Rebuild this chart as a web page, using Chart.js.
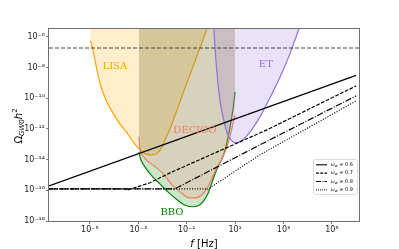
<!DOCTYPE html>
<html><head><meta charset="utf-8">
<script src="https://cdn.jsdelivr.net/npm/chart.js@4.4.1/dist/chart.umd.min.js"></script>
<style>html,body{margin:0;padding:0;background:#fff;overflow:hidden}canvas{display:block}</style>
</head><body>
<canvas id="c" width="399" height="249"></canvas>
<script>
// All values are log10: frequency f [Hz] and Omega_GW0 h^2
const xMinExp = -6.69, xMaxExp = 6.12;
const yMinExp = -18, yMaxExp = -5.48;
const xTickExps = [-5, -3, -1, 1, 3, 5];
const xTickLabels = ['10⁻⁵', '10⁻³', '10⁻¹', '10¹', '10³', '10⁵'];
const yTickExps = [-18, -16, -14, -12, -10, -8, -6];
const yTickLabels = ['10⁻¹⁸', '10⁻¹⁶', '10⁻¹⁴', '10⁻¹²', '10⁻¹⁰', '10⁻⁸', '10⁻⁶'];

// horizontal dashed bound
const boundLogF = [-6.69, 6.12];
const boundLogOmega = [-6.72, -6.72];

// omega_w curves
const w06LogF = [-6.69, 6.0];
const w06LogOmega = [-15.71, -8.5];
const w07LogF = [-6.69, -3.55, -3.47, -3.40, -2.52, -1.69, 2.31, 6.0];
const w07LogOmega = [-15.9, -15.9, -16.0, -15.95, -15.51, -14.86, -12.06, -9.19];
const w08LogF = [-6.69, -1.62, -1.55, 2.02, 6.0];
const w08LogOmega = [-15.9, -15.9, -15.95, -13.04, -9.84];
const w09LogF = [-6.69, -0.22, -0.15, 2.02, 6.0];
const w09LogOmega = [-15.9, -15.9, -15.95, -13.69, -10.17];
const legendValues = ['0.6', '0.7', '0.8', '0.9'];

// detector sensitivity curves
const lisaLogF = [-4.98, -4.876, -4.752, -4.587, -4.339, -4.05, -3.76, -3.47, -3.18, -2.93, -2.69, -2.44, -2.19, -2.02, -1.86, -1.69, -1.28, -0.87, -0.455, -0.165];
const lisaLogOmega = [-6.26, -6.85, -7.82, -9.0, -10.1, -10.95, -11.67, -12.25, -12.91, -13.36, -13.62, -13.69, -13.56, -13.17, -12.58, -11.99, -10.23, -8.48, -6.72, -5.48];
const decigoLogF = [-2.975, -2.934, -2.81, -2.52, -2.19, -1.90, -1.61, -1.28, -0.87, -0.62, -0.372, -0.124, 0.083, 0.289, 0.496, 0.661, 0.785, 0.909, 1.0];
const decigoLogOmega = [-12.51, -13.23, -13.75, -14.21, -14.60, -15.06, -15.64, -16.10, -16.49, -16.49, -16.29, -15.77, -15.06, -14.40, -13.82, -13.17, -12.51, -11.67, -11.1];
const bboLogF = [-2.975, -2.893, -2.727, -2.44, -2.107, -1.777, -1.446, -1.116, -0.785, -0.537, -0.33, -0.124, 0.041, 0.207, 0.372, 0.537, 0.661, 0.785, 0.909, 1.0];
const bboLogOmega = [-13.49, -14.01, -14.47, -15.06, -15.58, -16.10, -16.55, -16.94, -17.07, -17.01, -16.75, -16.23, -15.51, -14.79, -14.21, -13.62, -12.91, -11.93, -10.76, -9.58];
const etLogF = [0.124, 0.165, 0.207, 0.248, 0.289, 0.372, 0.455, 0.579, 0.70, 0.868, 1.033, 1.20, 1.446, 1.74, 2.025, 2.355, 2.727, 3.0, 3.264, 3.45, 3.636];
const etLogOmega = [-5.48, -6.52, -7.50, -8.28, -9.0, -10.10, -10.89, -11.73, -12.38, -12.78, -12.91, -12.84, -12.51, -11.93, -11.21, -10.23, -9.05, -8.1, -7.1, -6.3, -5.48];

// text labels (data coordinates, log10)
const curveLabels = [
  { text: 'LISA', logF: -3.97, logOmega: -7.89, color: '#FFA500' },
  { text: 'ET', logF: 2.27, logOmega: -7.82, color: '#9370DB' },
  { text: 'DECIGO', logF: -0.66, logOmega: -12.12, color: '#F47A68' },
  { text: 'BBO', logF: -1.61, logOmega: -17.47, color: '#008000' }
];

function pts(lf, lo) { return lf.map((v, i) => ({ x: Math.pow(10, v), y: Math.pow(10, lo[i]) })); }

const blackLine = (label, lf, lo, dash) => ({
  label, data: pts(lf, lo), borderColor: '#000', borderWidth: 1.2, borderDash: dash,
  pointRadius: 0, fill: false, tension: 0, isLegend: true
});
const detector = (label, lf, lo, line, fillc) => ({
  label, data: pts(lf, lo), borderColor: line, backgroundColor: fillc, borderWidth: 1.2,
  pointRadius: 0, fill: 'end', cubicInterpolationMode: 'monotone'
});

const datasets = [
  blackLine('w06', w06LogF, w06LogOmega, []),
  blackLine('w07', w07LogF, w07LogOmega, [3.7, 1.6]),
  blackLine('w08', w08LogF, w08LogOmega, [6.4, 1.6, 1, 1.6]),
  blackLine('w09', w09LogF, w09LogOmega, [1, 1.6]),
  { label: 'bound', data: pts(boundLogF, boundLogOmega), borderColor: 'rgba(40,40,40,0.85)', borderWidth: 1.2, borderDash: [4, 2], pointRadius: 0, fill: false },
  detector('ET', etLogF, etLogOmega, '#9370DB', 'rgba(147,112,219,0.2)'),
  detector('DECIGO', decigoLogF, decigoLogOmega, '#F47A68', 'rgba(250,128,114,0.2)'),
  detector('BBO', bboLogF, bboLogOmega, '#008000', 'rgba(0,128,0,0.2)'),
  detector('LISA', lisaLogF, lisaLogOmega, '#FFA500', 'rgba(255,165,0,0.2)')
];

const decor = {
  id: 'decor',
  afterDatasetsDraw(chart) {
    const ctx = chart.ctx, a = chart.chartArea, sx = chart.scales.x, sy = chart.scales.y;
    ctx.save();
    // curve labels
    ctx.textAlign = 'center'; ctx.textBaseline = 'middle';
    ctx.font = '10px "DejaVu Serif"';
    curveLabels.forEach(l => {
      ctx.fillStyle = l.color;
      ctx.fillText(l.text, sx.getPixelForValue(Math.pow(10, l.logF)), sy.getPixelForValue(Math.pow(10, l.logOmega)));
    });
    // frame
    ctx.strokeStyle = '#707070'; ctx.lineWidth = 1;
    ctx.strokeRect(Math.round(a.left) - 0.5, Math.round(a.top) - 0.5, Math.round(a.right - a.left) + 1, Math.round(a.bottom - a.top) + 1);
    // legend
    const bx = a.right - 46, by = a.bottom - 62, bw = 44, bh = 35;
    ctx.fillStyle = 'rgba(255,255,255,0.85)'; ctx.strokeStyle = '#d0d0d0'; ctx.lineWidth = 0.8;
    ctx.beginPath(); ctx.roundRect(bx + 0.5, by + 0.5, bw, bh, 2); ctx.fill(); ctx.stroke();
    const legendSets = chart.data.datasets.filter(d => d.isLegend);
    legendSets.forEach((d, i) => {
      const yy = by + 5.8 + i * 8.35;
      ctx.strokeStyle = '#000'; ctx.lineWidth = 1.1; ctx.setLineDash(d.borderDash.map(v => v * 0.8));
      ctx.beginPath(); ctx.moveTo(bx + 3, yy); ctx.lineTo(bx + 14, yy); ctx.stroke();
      ctx.setLineDash([]);
      ctx.fillStyle = '#000'; ctx.textAlign = 'left'; ctx.textBaseline = 'middle';
      let tx = bx + 17.5;
      ctx.font = 'italic 5px "DejaVu Sans"'; ctx.fillText('ω', tx, yy); tx += ctx.measureText('ω').width;
      ctx.font = 'italic 3.6px "DejaVu Sans"'; ctx.fillText('w', tx, yy + 1.3); tx += ctx.measureText('w').width;
      ctx.font = '5px "DejaVu Sans"'; ctx.fillText(' = ' + legendValues[i], tx, yy);
    });
    // x title
    ctx.fillStyle = '#000'; ctx.textBaseline = 'alphabetic'; ctx.textAlign = 'left';
    const xc = (a.left + a.right) / 2;
    ctx.font = 'italic 10px "DejaVu Sans"'; const w1 = ctx.measureText('f').width;
    ctx.font = '10px "DejaVu Sans"'; const w2 = ctx.measureText(' [Hz]').width;
    let x0 = xc - (w1 + w2) / 2;
    ctx.font = 'italic 10px "DejaVu Sans"'; ctx.fillText('f', x0, 246.5);
    ctx.font = '10px "DejaVu Sans"'; ctx.fillText(' [Hz]', x0 + w1, 246.5);
    // y title
    ctx.translate(21.5, (a.top + a.bottom) / 2 + 1);
    ctx.rotate(-Math.PI / 2);
    const parts = [
      { t: 'Ω', f: '10px "DejaVu Sans"', dy: 0 },
      { t: 'GW0', f: 'italic 7px "DejaVu Sans"', dy: 2.2 },
      { t: 'h', f: 'italic 10px "DejaVu Sans"', dy: 0 },
      { t: '2', f: '7px "DejaVu Sans"', dy: -4.2 }
    ];
    let tot = 0; parts.forEach(p => { ctx.font = p.f; p.w = ctx.measureText(p.t).width; tot += p.w; });
    let px = -tot / 2;
    parts.forEach(p => { ctx.font = p.f; ctx.fillText(p.t, px, p.dy); px += p.w; });
    ctx.restore();
  }
};

new Chart(document.getElementById('c'), {
  type: 'line',
  data: { datasets },
  options: {
    responsive: false, animation: false, devicePixelRatio: 1,
    layout: { padding: { left: 0, right: 40, top: 29, bottom: 0 } },
    plugins: { legend: { display: false }, tooltip: { enabled: false } },
    scales: {
      x: {
        type: 'logarithmic', min: Math.pow(10, xMinExp), max: Math.pow(10, xMaxExp), bounds: 'data',
        afterBuildTicks: s => { s.ticks = xTickExps.map(e => ({ value: Math.pow(10, e) })); },
        afterFit: s => { s.height = 28; },
        ticks: { autoSkip: false, maxRotation: 0, minRotation: 0, padding: 1, color: '#222',
          font: { family: 'DejaVu Sans', size: 8 }, callback: (v, i) => xTickLabels[i] },
        grid: { drawOnChartArea: false, drawTicks: true, tickLength: 3, color: '#555', lineWidth: 0.8 },
        border: { display: false }
      },
      y: {
        type: 'logarithmic', min: Math.pow(10, yMinExp), max: Math.pow(10, yMaxExp), bounds: 'data',
        afterBuildTicks: s => { s.ticks = yTickExps.map(e => ({ value: Math.pow(10, e) })); },
        afterFit: s => { s.width = 49; },
        ticks: { autoSkip: false, padding: 1, color: '#222',
          font: { family: 'DejaVu Sans', size: 8 }, callback: (v, i) => yTickLabels[i] },
        grid: { drawOnChartArea: false, drawTicks: true, tickLength: 3, color: '#555', lineWidth: 0.8 },
        border: { display: false }
      }
    }
  },
  plugins: [decor]
});
</script>
</body></html>
